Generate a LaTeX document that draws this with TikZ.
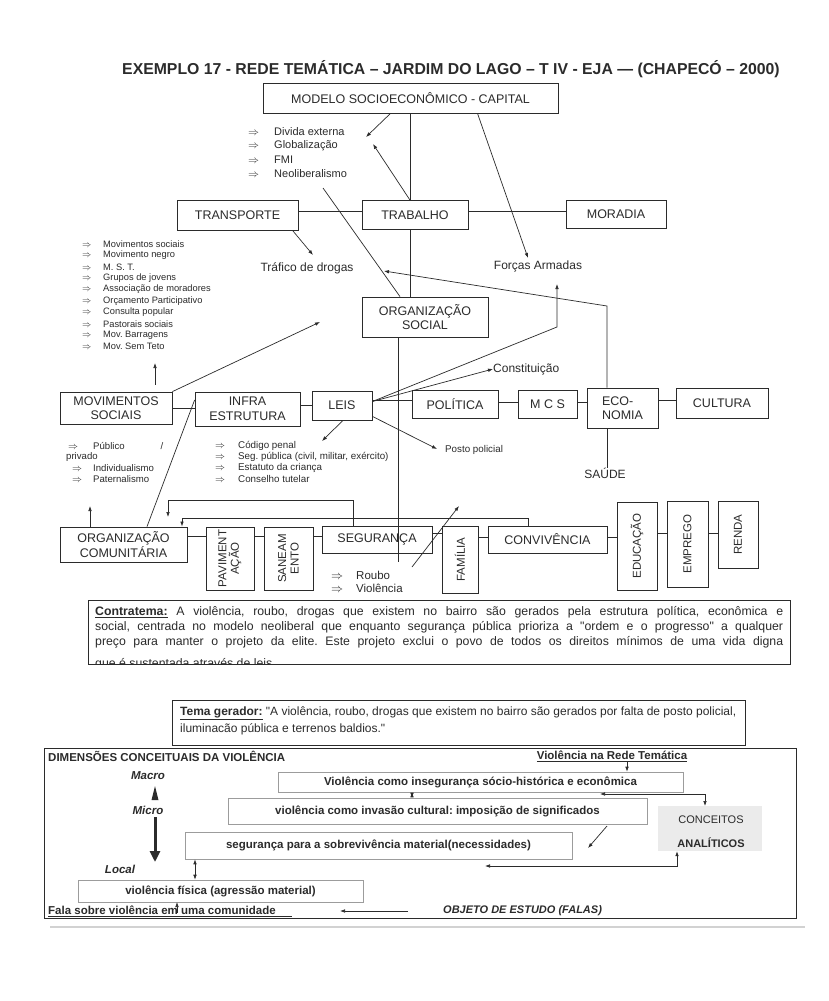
\documentclass[tikz,border=0pt]{standalone}
\usepackage{fontspec}
\setmainfont{Liberation Sans}
\usetikzlibrary{arrows.meta,calc}
\definecolor{ink}{HTML}{2B2B2B}
\definecolor{soft}{HTML}{9C9C9C}
\frenchspacing
\begin{document}
\begin{tikzpicture}[x=1pt,y=-1pt,
  every node/.style={text=ink},
  bx/.style={draw=ink, line width=0.8pt, inner sep=0pt, align=center, font=\fontsize{12.5}{14.5}\selectfont},
  vbx/.style={bx, rotate=90, font=\fontsize{11.5}{12.5}\selectfont},
  lbl/.style={inner sep=0pt, font=\fontsize{12}{14}\selectfont},
  small/.style={inner sep=0pt, anchor=west, font=\fontsize{9.3}{10}\selectfont},
  para/.style={inner sep=0pt, anchor=west, font=\fontsize{12.3}{14}\selectfont},
  conn/.style={draw=ink, line width=0.7pt},
  arr/.style={conn, -{Latex[length=5pt,width=3.6pt]}},
  darr/.style={conn, {Latex[length=5pt,width=3.6pt]}-{Latex[length=5pt,width=3.6pt]}},
  dbx/.style={draw=soft, line width=0.6pt, inner sep=0pt, font=\fontsize{11.5}{13}\selectfont\bfseries},
  dtxt/.style={inner sep=0pt, font=\fontsize{11.5}{13}\selectfont\bfseries},
]
\useasboundingbox[fill=white] (0,0) rectangle (829,1001);

% ---------- title and top
\node[inner sep=0pt, font=\fontsize{15.8}{17}\selectfont\bfseries] (title) at (451,69) {EXEMPLO 17 - REDE TEMÁTICA – JARDIM DO LAGO – T IV - EJA — (CHAPECÓ – 2000)};
\node[bx, minimum width=295pt, minimum height=30pt] (modelo) at (410.5,98) {MODELO SOCIOECONÔMICO - CAPITAL};
\foreach \t [count=\i] in {Divida externa, Globalização, FMI, Neoliberalismo}
  \node[inner sep=0pt, anchor=west, font=\fontsize{11}{12}\selectfont] (g\i) at (248,{132+14*(\i-1)}) {\makebox[26pt][l]{$\Rightarrow$}\t};

\node[bx, minimum width=121pt, minimum height=30pt] (transp) at (237.5,215) {TRANSPORTE};
\node[bx, minimum width=106pt, minimum height=29pt] (trab) at (415,215) {TRABALHO};
\node[bx, minimum width=100pt, minimum height=28pt] (morad) at (616,214) {MORADIA};
\node[lbl] (trafico) at (307,268) {Tráfico de drogas};
\node[lbl] (forcas) at (538,266) {Forças Armadas};
\node[bx, minimum width=126pt, minimum height=40pt] (orgsoc) at (425,317) {ORGANIZAÇÃO\\SOCIAL};
\node[lbl, anchor=west] (constit) at (493,369) {Constituição};

% left list
\foreach \t [count=\i] in {Movimentos sociais, Movimento negro, M. S. T., Grupos de jovens, Associação de moradores, Orçamento Participativo, Consulta popular, Pastorais sociais, Mov. Barragens, Mov. Sem Teto}
  \node[small] (ml\i) at (82,{244+11.4*(\i-1)}) {\makebox[21pt][l]{$\Rightarrow$}\t};

% ---------- middle row
\node[bx, minimum width=112pt, minimum height=32pt] (movsoc) at (116,408) {MOVIMENTOS\\SOCIAIS};
\node[bx, minimum width=105pt, minimum height=34pt] (infra) at (247.5,409) {INFRA\\ESTRUTURA};
\node[bx, minimum width=60pt, minimum height=29pt] (leis) at (342,405.5) {LEIS};
\node[bx, minimum width=86pt, minimum height=28pt] (pol) at (455,404) {POLÍTICA};
\node[bx, minimum width=59pt, minimum height=28pt] (mcs) at (547.5,404) {M C S};
\node[bx, minimum width=71pt, minimum height=40pt, align=left] (econ) at (622.5,408) {ECO-\\NOMIA};
\node[bx, minimum width=92pt, minimum height=30pt] (cult) at (722,403) {CULTURA};
\node[lbl] (saude) at (605,473) {SAÚDE};
\node[small, font=\fontsize{9.8}{11}\selectfont] (posto) at (445,450) {Posto policial};

\foreach \t [count=\i] in {Código penal, {Seg. pública (civil, militar, exército)}, Estatuto da criança, Conselho tutelar}
  \node[small, font=\fontsize{9.8}{11}\selectfont] (cp\i) at (215,{446+11*(\i-1)}) {\makebox[23pt][l]{$\Rightarrow$}\t};

\node[small, font=\fontsize{9.6}{11}\selectfont] (pb1) at (68,446) {\makebox[25pt][l]{$\Rightarrow$}Público\hspace{36pt}/};
\node[small, font=\fontsize{9.6}{11}\selectfont] (pb2) at (66,457) {privado};
\node[small, font=\fontsize{9.6}{11}\selectfont] (pb3) at (72,468) {\makebox[21pt][l]{$\Rightarrow$}Individualismo};
\node[small, font=\fontsize{9.6}{11}\selectfont] (pb4) at (72,479) {\makebox[21pt][l]{$\Rightarrow$}Paternalismo};

% ---------- bottom row
\node[bx, minimum width=127pt, minimum height=35pt] (orgcom) at (123.5,544.5) {ORGANIZAÇÃO\\COMUNITÁRIA};
\node[vbx, minimum width=63pt, minimum height=48pt] (pav) at (230,558.5) {PAVIMENT\\AÇÃO};
\node[vbx, minimum width=63pt, minimum height=49pt] (san) at (288.5,558.5) {SANEAM\\ENTO};
\node[bx, minimum width=110pt, minimum height=27pt] (seg) at (377,539.5) {SEGURANÇA};
\node[vbx, minimum width=67pt, minimum height=36pt] (fam) at (460,559.5) {FAMÍLIA};
\node[bx, minimum width=119pt, minimum height=27pt] (conv) at (547.5,539.5) {CONVIVÊNCIA};
\node[vbx, minimum width=88pt, minimum height=40pt] (edu) at (637,546) {EDUCAÇÃO};
\node[vbx, minimum width=86pt, minimum height=41pt] (emp) at (687.5,544) {EMPREGO};
\node[vbx, minimum width=67pt, minimum height=40pt] (renda) at (738,534.5) {RENDA};
\node[inner sep=0pt, anchor=west, font=\fontsize{11.5}{13}\selectfont] (roubo) at (331,575) {\makebox[25pt][l]{$\Rightarrow$}Roubo};
\node[inner sep=0pt, anchor=west, font=\fontsize{11.5}{13}\selectfont] (violen) at (331,588) {\makebox[25pt][l]{$\Rightarrow$}Violência};

% ---------- text boxes
\node[draw=ink, line width=0.8pt, minimum width=702pt, minimum height=64pt, inner sep=0pt] (contra) at (439,632) {};
\begin{scope}
\clip (88,600) rectangle (790,663.6);
\foreach \l [count=\i] in {
 {\underline{\textbf{Contratema:}} A violência, roubo, drogas que existem no bairro são gerados pela estrutura política, econômica e},
 {social, centrada no modelo neoliberal que enquanto segurança pública prioriza a \textquotedbl ordem e o progresso\textquotedbl\ a qualquer},
 {preço para manter o projeto da elite. Este projeto exclui o povo de todos os direitos mínimos de uma vida digna}}
  \node[para] (ct\i) at (95,{612+15*(\i-1)}) {\makebox[688pt][s]{\l}};
\node[para] (ct4) at (95,664) {que é sustentada através de leis.};
\end{scope}

\node[draw=ink, line width=0.8pt, minimum width=573pt, minimum height=45pt, inner sep=0pt] (tema) at (458.5,722.5) {};
\node[para, font=\fontsize{12}{14}\selectfont] (tg1) at (180,713) {\makebox[556pt][s]{\underline{\textbf{Tema gerador:}} \textquotedbl A violência, roubo, drogas que existem no bairro são gerados por falta de posto policial,}};
\node[para, font=\fontsize{12}{14}\selectfont] (tg2) at (180,729) {iluminacão pública e terrenos baldios.\textquotedbl};

% ---------- dimensions box
\node[draw=ink, line width=0.8pt, minimum width=752pt, minimum height=170pt, inner sep=0pt] (dim) at (420,833) {};
\node[dtxt, anchor=west] (dtitle) at (48,756) {DIMENSÕES CONCEITUAIS DA VIOLÊNCIA};
\node[dtxt] (rede) at (612,756) {\underline{Violência na Rede Temática}};
\node[dtxt, font=\fontsize{11.5}{13}\selectfont\bfseries\itshape] (macro) at (148,776) {Macro};
\node[dtxt, font=\fontsize{11.5}{13}\selectfont\bfseries\itshape] (micro) at (148,810) {Micro};
\node[dtxt, font=\fontsize{11.5}{13}\selectfont\bfseries\itshape] (loc) at (120,869) {Local};
\node[dbx, minimum width=405pt, minimum height=20pt] (d1) at (480.5,782) {Violência como insegurança sócio-histórica e econômica};
\node[dbx, minimum width=419pt, minimum height=26pt] (d2) at (437.5,811) {violência como invasão cultural: imposição de significados};
\node[dbx, minimum width=387pt, minimum height=27pt] (d3) at (378.5,845.5) {segurança para a sobrevivência material(necessidades)};
\node[dbx, minimum width=285pt, minimum height=22pt] (d4) at (220.5,891) {violência física (agressão material)};
\node[fill=gray!16, minimum width=104pt, minimum height=45pt, inner sep=0pt] (conc) at (710,828.5) {};
\node[inner sep=0pt, font=\fontsize{11}{13}\selectfont] (conc1) at (711,820) {CONCEITOS};
\node[inner sep=0pt, font=\fontsize{11}{13}\selectfont\bfseries] (conc2) at (711,843) {ANALÍTICOS};
\node[dtxt, anchor=west] (fala) at (48,911) {\underline{Fala sobre violência em uma comunidade\hspace{16pt}}};
\node[dtxt, anchor=west, font=\fontsize{11}{13}\selectfont\bfseries\itshape] (objeto) at (443,911) {OBJETO DE ESTUDO (FALAS)};
\draw[gray!35, line width=1.5pt] (50,927) -- (805,927);

% ---------- coordinates
\coordinate (dvtip) at (366,137);
\coordinate (gltip) at (373,144);
\coordinate (fatip) at (528,258);
\coordinate (nl) at (323,188);
\coordinate (trtip) at (313,255);
\coordinate (ectop) at (607,306);
\coordinate (tdtip) at (384,271);
\coordinate (fbend) at (557,327);
\coordinate (fbtip) at (557,284);
\coordinate (mstip) at (320,322);
\coordinate (mutip) at (155,363);
\coordinate (cptip) at (322,441);
\coordinate (pptip) at (437,449);
\coordinate (vend) at (398,562);
\coordinate (outip) at (90,506);
\coordinate (l1a) at (353,500);
\coordinate (l1b) at (168,500);
\coordinate (l1c) at (168,517);
\coordinate (l2a) at (528,518);
\coordinate (l2b) at (182,518);
\coordinate (rbs) at (412,567);
\coordinate (rbt) at (459,506);
\coordinate (ra) at (0,536);
\coordinate (rb) at (0,533);
\coordinate (rc) at (0,537);
\coordinate (c627) at (627,0);
\coordinate (c412) at (412,0);
\coordinate (c195) at (195,0);
\coordinate (h1) at (600,794);
\coordinate (h2) at (705,794);
\coordinate (h3) at (705,806);
\coordinate (d2a) at (607,826);
\coordinate (d2b) at (588,848);
\coordinate (k1) at (485,866);
\coordinate (k2) at (677,866);
\coordinate (fs) at (177,913);
\coordinate (ftip) at (177,902);
\coordinate (os) at (408,911);
\coordinate (ot) at (340,911);
\coordinate (thk1) at (155,817);
\coordinate (thk2) at (155,862);

% ---------- connectors (top)
\draw[arr] ([xshift=-20pt]modelo.south) -- (dvtip);
\draw[conn] ([xshift=-5pt]trab.north) -- ([xshift=-5pt]trab.north |- modelo.south);
\draw[arr] ([xshift=-5pt]trab.north) -- (gltip);
\draw[arr] ([xshift=67pt]modelo.south) -- (fatip);
\draw[conn] (nl) -- ([xshift=-25pt]orgsoc.north);
\draw[conn] ([yshift=4pt]transp.east) -- ([yshift=4pt]trab.west);
\draw[conn] ([yshift=4pt]trab.east) -- ([yshift=4pt]trab.east -| morad.west);
\draw[arr] ([xshift=55pt]transp.south) -- (trtip);
\draw[conn] ([xshift=-5pt]trab.south) -- ([xshift=-5pt]trab.south |- orgsoc.north);
\draw[arr] ([xshift=-15.5pt]econ.north) -- (ectop) -- (tdtip);
\draw[conn] (vend |- orgsoc.south) -- (vend);
\draw[arr] ([yshift=4pt]leis.east) -- (fbend) -- (fbtip);
\draw[arr] ([yshift=4pt]leis.east) -- (constit.west);
\draw[arr] (movsoc.north east) -- (mstip);
\draw[arr] ([xshift=39pt,yshift=7pt]movsoc.north) -- (mutip);

% middle row
\draw[conn] (movsoc.east) -- (movsoc.east -| infra.west);
\draw[conn] (leis.west -| infra.east) -- (leis.west);
\draw[conn] ([yshift=5pt]leis.east) -- ([yshift=5pt]leis.east -| pol.west);
\draw[conn] ([yshift=2pt]pol.east) -- ([yshift=2pt]pol.east -| mcs.west);
\draw[conn] ([yshift=2pt]mcs.east) -- ([yshift=2pt]mcs.east -| econ.west);
\draw[conn] ([yshift=3pt]cult.west -| econ.east) -- ([yshift=3pt]cult.west);
\draw[conn] ([xshift=-15.5pt]econ.south) -- ([xshift=-15.5pt]econ.south |- saude.north);
\draw[arr] ([xshift=1pt]leis.south) -- (cptip);
\draw[arr] ([yshift=4pt]leis.south east) -- (pptip);
\draw[conn] ([yshift=9pt]infra.west) -- ([xshift=23.5pt]orgcom.north);

% bottom row
\draw[arr] ([xshift=-33.5pt]orgcom.north) -- (outip);
\draw[arr] ([xshift=-24pt]seg.north) -- (l1a) -- (l1b) -- (l1c);
\draw[arr] ([xshift=-19.5pt]conv.north) -- (l2a) -- (l2b) -- (l2b |- orgcom.north);
\draw[arr] (rbs) -- (rbt);
\draw[conn] (orgcom.east |- ra) -- (pav.north |- ra);
\draw[conn] (pav.south |- ra) -- (san.north |- ra);
\draw[conn] (san.south |- ra) -- (seg.west |- ra);
\draw[conn] (seg.east |- rb) -- (fam.north |- rb);
\draw[conn] (fam.south |- rc) -- (conv.west |- rc);
\draw[conn] (conv.east |- rc) -- (edu.north |- rc);
\draw[conn] (edu.south |- rb) -- (emp.north |- rb);
\draw[conn] (emp.south |- rb) -- (renda.north |- rb);

% dimensions
\draw[arr] (rede.south -| c627) -- (d1.north -| c627);
\draw[darr] (d1.south -| c412) -- (d2.north -| c412);
\draw[darr] (h1) -- (h2) -- (h3);
\draw[arr] (d2a) -- (d2b);
\draw[darr] (d3.south -| c195) -- (d4.north -| c195);
\draw[darr] (k1) -- (k2) -- (conc.south -| k2);
\draw[arr] (fs) -- (ftip);
\draw[arr] (os) -- (ot);
\fill[ink] (151.5,800) -- (158.5,800) -- (155,786) -- cycle;
\draw[ink, line width=3pt, -{Triangle[length=11pt,width=10pt]}] (thk1) -- (thk2);
\end{tikzpicture}
\end{document}
